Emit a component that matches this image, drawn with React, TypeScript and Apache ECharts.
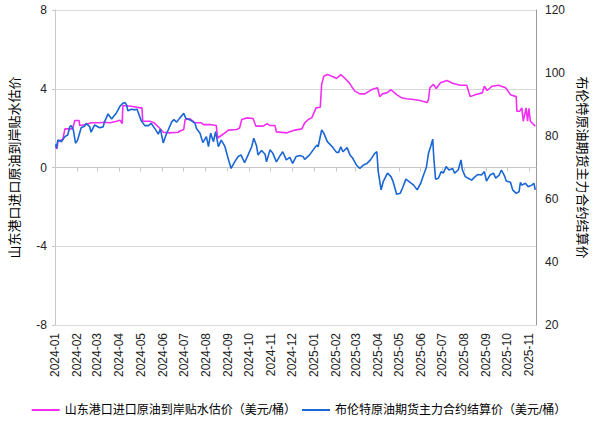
import React, { useEffect, useRef } from "react";
import * as echarts from "echarts";

// 山东港口进口原油到岸贴水估价（美元/桶）— left axis
const pinkDates = [
  "2024-01-02", "2024-01-04", "2024-01-05", "2024-01-12", "2024-01-15", "2024-01-26", "2024-01-29", "2024-02-04",
  "2024-02-05", "2024-02-14", "2024-02-21", "2024-03-04", "2024-03-11", "2024-03-19", "2024-03-28", "2024-04-02",
  "2024-04-05", "2024-04-06", "2024-04-18", "2024-04-30", "2024-05-03", "2024-05-04", "2024-05-14", "2024-05-20",
  "2024-05-27", "2024-06-02", "2024-06-11", "2024-06-23", "2024-06-25", "2024-07-01", "2024-07-03", "2024-07-10",
  "2024-07-17", "2024-07-26", "2024-07-29", "2024-08-07", "2024-08-16", "2024-08-18", "2024-08-26", "2024-09-02",
  "2024-09-14", "2024-09-18", "2024-09-21", "2024-09-28", "2024-10-07", "2024-10-11", "2024-10-21", "2024-10-27",
  "2024-10-31", "2024-11-07", "2024-11-09", "2024-11-24", "2024-12-05", "2024-12-15", "2024-12-19", "2024-12-24",
  "2024-12-29", "2025-01-04", "2025-01-10", "2025-01-12", "2025-01-15", "2025-01-20", "2025-01-29", "2025-02-02",
  "2025-02-08", "2025-02-13", "2025-02-20", "2025-02-24", "2025-02-28", "2025-03-07", "2025-03-14", "2025-03-24",
  "2025-04-01", "2025-04-04", "2025-04-08", "2025-04-14", "2025-04-20", "2025-04-28", "2025-05-05", "2025-05-12",
  "2025-05-22", "2025-05-31", "2025-06-10", "2025-06-12", "2025-06-14", "2025-06-19", "2025-06-23", "2025-06-29",
  "2025-07-08", "2025-07-17", "2025-07-27", "2025-08-05", "2025-08-10", "2025-08-17", "2025-08-27", "2025-08-30",
  "2025-09-03", "2025-09-10", "2025-09-19", "2025-09-29", "2025-10-06", "2025-10-14", "2025-10-15", "2025-10-19",
  "2025-10-22", "2025-10-24", "2025-10-28", "2025-10-30", "2025-11-01", "2025-11-03", "2025-11-10",
];
const pinkValues = [
  1.1, 0.95, 1.34, 1.42, 1.96, 1.96, 2.39, 2.39,
  2.13, 2.18, 2.27, 2.27, 2.3, 2.27, 2.35, 2.4,
  2.23, 3.15, 3.11, 3.03, 3.03, 2.35, 2.35, 2.27,
  2.03, 1.79, 1.76, 1.79, 1.84, 1.93, 2.44, 2.47,
  2.27, 2.27, 2.18, 2.18, 2.13, 1.5, 1.7, 1.9,
  1.93, 2.01, 2.44, 2.52, 2.49, 2.1, 2.1, 2.22,
  2.13, 2.13, 1.81, 1.76, 1.9, 1.96, 2.27, 2.44,
  2.52, 3.03, 3.06, 4.22, 4.64, 4.72, 4.6, 4.52,
  4.72, 4.56, 4.3, 4.08, 3.88, 3.74, 3.74, 3.96,
  4.05, 3.6, 3.74, 3.79, 3.95, 3.7, 3.54, 3.49,
  3.45, 3.4, 3.3, 3.45, 4.05, 4.22, 4.01, 4.3,
  4.42, 4.27, 4.18, 4.18, 3.6, 3.7, 3.79, 4.13,
  3.91, 4.13, 4.18, 4.05, 3.7, 3.6, 2.86, 2.86,
  3.03, 2.35, 3.03, 2.35, 3.0, 2.35, 2.1,
];

// 布伦特原油期货主力合约结算价（美元/桶）— right axis
const blueDates = [
  "2024-01-02", "2024-01-03", "2024-01-05", "2024-01-10", "2024-01-15", "2024-01-19", "2024-01-22", "2024-01-24",
  "2024-01-27", "2024-01-30", "2024-02-02", "2024-02-07", "2024-02-12", "2024-02-14", "2024-02-19", "2024-02-21",
  "2024-02-26", "2024-03-04", "2024-03-09", "2024-03-11", "2024-03-16", "2024-03-21", "2024-03-28", "2024-04-02",
  "2024-04-06", "2024-04-09", "2024-04-11", "2024-04-13", "2024-04-18", "2024-04-23", "2024-04-26", "2024-05-02",
  "2024-05-07", "2024-05-12", "2024-05-16", "2024-05-21", "2024-05-26", "2024-05-29", "2024-06-02", "2024-06-06",
  "2024-06-09", "2024-06-14", "2024-06-17", "2024-06-21", "2024-06-25", "2024-07-01", "2024-07-04", "2024-07-10",
  "2024-07-17", "2024-07-19", "2024-07-24", "2024-07-28", "2024-08-02", "2024-08-05", "2024-08-08", "2024-08-12",
  "2024-08-15", "2024-08-19", "2024-08-23", "2024-08-28", "2024-09-02", "2024-09-06", "2024-09-11", "2024-09-16",
  "2024-09-20", "2024-09-25", "2024-09-30", "2024-10-05", "2024-10-08", "2024-10-12", "2024-10-14", "2024-10-19",
  "2024-10-24", "2024-10-26", "2024-10-31", "2024-11-04", "2024-11-09", "2024-11-14", "2024-11-18", "2024-11-23",
  "2024-11-28", "2024-12-02", "2024-12-07", "2024-12-12", "2024-12-17", "2024-12-19", "2024-12-26", "2024-12-31",
  "2025-01-05", "2025-01-07", "2025-01-12", "2025-01-15", "2025-01-20", "2025-01-27", "2025-02-02", "2025-02-05",
  "2025-02-08", "2025-02-11", "2025-02-17", "2025-02-21", "2025-02-25", "2025-03-02", "2025-03-07", "2025-03-12",
  "2025-03-17", "2025-03-22", "2025-03-28", "2025-03-31", "2025-04-02", "2025-04-06", "2025-04-09", "2025-04-15",
  "2025-04-20", "2025-04-23", "2025-04-28", "2025-05-03", "2025-05-07", "2025-05-11", "2025-05-17", "2025-05-22",
  "2025-05-27", "2025-06-01", "2025-06-05", "2025-06-09", "2025-06-12", "2025-06-15", "2025-06-18", "2025-06-19",
  "2025-06-20", "2025-06-22", "2025-06-26", "2025-06-30", "2025-07-03", "2025-07-07", "2025-07-11", "2025-07-16",
  "2025-07-19", "2025-07-24", "2025-07-28", "2025-07-30", "2025-08-03", "2025-08-07", "2025-08-12", "2025-08-17",
  "2025-08-21", "2025-08-26", "2025-08-30", "2025-09-02", "2025-09-07", "2025-09-12", "2025-09-15", "2025-09-20",
  "2025-09-23", "2025-09-27", "2025-09-30", "2025-10-06", "2025-10-09", "2025-10-14", "2025-10-18", "2025-10-20",
  "2025-10-22", "2025-10-27", "2025-10-31", "2025-11-05", "2025-11-08", "2025-11-10",
];
const blueValues = [
  77.4, 76.1, 78.7, 78.2, 79.8, 80.3, 83.0, 83.3,
  81.9, 77.7, 78.7, 82.6, 83.2, 84.0, 83.0, 81.2,
  83.5, 82.6, 82.9, 84.5, 87.0, 85.4, 87.4, 89.5,
  90.4, 90.6, 90.0, 88.0, 88.5, 88.3, 88.5, 84.8,
  83.3, 83.3, 84.0, 82.4, 80.6, 82.2, 77.8, 80.4,
  81.9, 84.5, 85.2, 84.4, 85.6, 87.2, 85.6, 85.1,
  84.0, 82.4, 80.9, 77.9, 79.8, 76.6, 80.9, 78.2,
  81.4, 76.6, 78.7, 76.8, 72.7, 69.7, 71.8, 73.5,
  74.0, 71.5, 74.0, 76.6, 79.3, 76.8, 74.0, 75.4,
  74.2, 71.8, 75.6, 74.5, 71.8, 73.7, 75.0, 72.4,
  73.2, 71.3, 73.5, 73.8, 73.4, 72.6, 74.0, 75.6,
  77.1, 76.6, 81.9, 80.9, 78.2, 76.6, 74.8, 74.8,
  76.6, 75.0, 76.3, 74.0, 72.9, 70.8, 69.7, 70.8,
  71.3, 72.4, 74.5, 75.0, 68.7, 62.9, 65.5, 68.2,
  67.1, 65.5, 61.5, 61.8, 63.9, 66.3, 65.3, 64.4,
  62.9, 65.0, 67.6, 70.0, 74.5, 76.6, 79.0, 75.0,
  71.8, 66.3, 66.6, 68.7, 68.2, 70.3, 69.2, 69.7,
  68.2, 69.2, 72.4, 69.2, 67.1, 66.6, 66.0, 67.1,
  67.8, 67.6, 68.7, 65.7, 67.6, 68.2, 66.6, 67.6,
  69.2, 67.6, 65.7, 65.3, 62.9, 61.8, 62.3, 65.3,
  64.4, 65.0, 63.9, 64.4, 65.0, 62.9,
];

const xMin = "2024-01-01";
const xMax = "2025-11-11";
const leftTicks = { min: -8, max: 8, interval: 4 };
const rightTicks = { min: 20, max: 120, interval: 20 };

const pinkName = "山东港口进口原油到岸贴水估价（美元/桶）";
const blueName = "布伦特原油期货主力合约结算价（美元/桶）";
const leftAxisName = "山东港口进口原油到岸贴水估价";
const rightAxisName = "布伦特原油期货主力合约结算价";

const FONT = "'Liberation Sans', 'Noto Sans CJK SC', sans-serif";
const DAY = 86400000;

export default function App() {
  const ref = useRef<HTMLDivElement>(null);
  useEffect(() => {
    if (!ref.current) return;
    const chart = echarts.init(ref.current, null, { renderer: "svg" });
    chart.setOption({
      animation: false,
      backgroundColor: "#ffffff",
      textStyle: { fontFamily: FONT },
      grid: { left: 55, right: 62, top: 10, bottom: 116, containLabel: false, outerBoundsMode: "none" },
      legend: {
        bottom: 20,
        left: "center",
        icon: "rect",
        itemWidth: 28,
        itemHeight: 2,
        itemGap: 6,
        textStyle: { fontSize: 12, color: "#000", fontFamily: FONT },
        data: [pinkName, blueName],
      },
      xAxis: {
        type: "time",
        min: xMin,
        max: xMax,
        minInterval: 28 * DAY,
        maxInterval: 31 * DAY,
        splitNumber: 23,
        axisLine: { show: true, lineStyle: { color: "#c8c8c8" } },
        axisTick: { show: true, length: 4, lineStyle: { color: "#c8c8c8" } },
        splitLine: { show: false },
        axisLabel: {
          rotate: 90,
          margin: 8,
          fontSize: 12,
          color: "#222",
          fontFamily: FONT,
          formatter: "{yyyy}-{MM}",
          hideOverlap: false,
          showMinLabel: true,
        },
      },
      yAxis: [
        {
          type: "value",
          position: "left",
          min: leftTicks.min,
          max: leftTicks.max,
          interval: leftTicks.interval,
          name: leftAxisName,
          nameLocation: "middle",
          nameRotate: 90,
          nameGap: 34,
          nameTextStyle: { fontSize: 13, color: "#000", fontFamily: FONT },
          axisLine: { show: true, lineStyle: { color: "#c8c8c8" } },
          axisTick: { show: true, length: 3, lineStyle: { color: "#c8c8c8" } },
          splitLine: { show: true, lineStyle: { color: "#d9d9d9" } },
          axisLabel: { fontSize: 12, color: "#222", margin: 8, fontFamily: FONT },
        },
        {
          type: "value",
          position: "right",
          min: rightTicks.min,
          max: rightTicks.max,
          interval: rightTicks.interval,
          name: rightAxisName,
          nameLocation: "middle",
          nameRotate: -90,
          nameGap: 38,
          nameTextStyle: { fontSize: 13, color: "#000", fontFamily: FONT },
          axisLine: { show: true, lineStyle: { color: "#9a9a9a" } },
          axisTick: { show: false },
          splitLine: { show: false },
          axisLabel: { fontSize: 12, color: "#222", margin: 9, fontFamily: FONT },
        },
      ],
      series: [
        {
          name: pinkName,
          type: "line",
          yAxisIndex: 0,
          showSymbol: false,
          symbol: "none",
          color: "#f22ef2",
          lineStyle: { width: 1.6, color: "#f22ef2" },
          data: pinkDates.map((d, i) => [d, pinkValues[i]]),
        },
        {
          name: blueName,
          type: "line",
          yAxisIndex: 1,
          showSymbol: false,
          symbol: "none",
          color: "#1a66d4",
          lineStyle: { width: 1.6, color: "#1a66d4" },
          data: blueDates.map((d, i) => [d, blueValues[i]]),
        },
      ],
    });
    return () => chart.dispose();
  }, []);
  return (
    <div
      ref={ref}
      style={{ position: "fixed", left: 0, top: 0, width: 598, height: 441, background: "#fff" }}
    />
  );
}
